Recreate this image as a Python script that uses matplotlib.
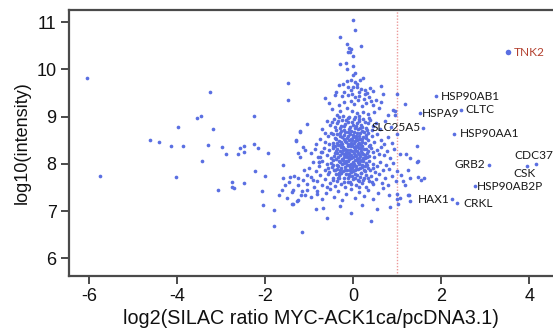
import matplotlib
matplotlib.use("Agg")
import matplotlib.pyplot as plt
import numpy as np

# ---- data ----
left_outliers = [(-6.05, 9.81), (-5.76, 7.74), (-4.63, 8.50), (-4.42, 8.47), (-4.14, 8.37),
                 (-3.86, 8.38), (-3.98, 8.78), (-4.02, 7.72), (-3.55, 8.98), (-3.45, 9.01),
                 (-3.26, 9.53), (-3.19, 8.73), (-3.31, 8.39), (-3.44, 8.07), (-3.08, 7.45),
                 (-2.99, 8.36), (-2.89, 8.21), (-2.76, 7.61), (-2.76, 7.52), (-2.72, 7.48),
                 (-2.63, 8.21), (-2.58, 8.33), (-2.48, 8.38), (-2.48, 8.25), (-2.48, 7.60),
                 (-2.26, 9.01), (-2.26, 8.43), (-2.17, 8.33), (-1.93, 8.22), (-2.23, 7.84),
                 (-2.01, 7.74), (-2.07, 7.43), (-2.04, 7.12), (-1.80, 7.02), (-1.81, 6.69),
                 (-1.69, 7.33), (-1.61, 7.44), (-1.59, 7.97)]

top_tail = [(0.00, 11.04), (0.03, 10.83), (-0.30, 10.68), (0.18, 10.50), (-0.14, 10.53),
            (-0.09, 10.46), (-0.06, 10.44), (-0.12, 10.36), (-0.08, 10.37), (-0.01, 10.29),
            (-0.30, 10.11), (-0.17, 10.13), (-0.15, 10.02), (-0.01, 10.07), (0.04, 9.93),
            (0.00, 9.88), (0.22, 9.81), (0.15, 9.77), (0.03, 9.74), (0.08, 9.70),
            (-0.06, 9.77), (-0.15, 9.76), (-0.32, 9.67), (-0.23, 9.69), (-0.11, 9.63),
            (-0.01, 9.62), (0.09, 9.63), (0.17, 9.59), (0.27, 9.57), (0.38, 9.60),
            (0.64, 9.65), (-1.48, 9.71), (-0.04, 9.57), (-0.40, 9.52), (0.45, 9.55),
            (-0.20, 9.53), (0.12, 9.52), (0.32, 9.50), (-1.48, 9.35)]

upper_core = [(-0.64, 9.39), (-0.42, 9.45), (-0.26, 9.43), (-0.11, 9.46), (0.05, 9.41),
              (0.14, 9.44), (0.24, 9.38), (0.36, 9.42), (0.52, 9.36), (0.68, 9.49),
              (0.99, 9.47), (-0.49, 9.17), (-0.30, 9.13), (-0.38, 9.04), (-0.20, 9.30),
              (-0.06, 9.33), (0.02, 9.26), (0.10, 9.35), (0.19, 9.22), (0.30, 9.28),
              (0.44, 9.24), (0.58, 9.18), (0.91, 9.14), (0.80, 9.03), (0.95, 9.03),
              (-0.15, 9.18), (-0.02, 9.12), (0.08, 9.08), (0.22, 9.10), (0.34, 9.05),
              (0.48, 9.09), (-0.24, 9.02), (-0.10, 9.00), (0.14, 9.01), (-0.55, 9.28),
              (0.62, 9.30), (0.40, 9.33), (-0.33, 9.25), (0.27, 9.47), (-0.03, 9.49),
              (1.17, 9.26), (0.95, 9.11)]

band_87 = [(-0.60, 8.90), (-0.52, 8.82), (-0.44, 8.95), (-0.36, 8.86), (-0.30, 8.76),
           (-0.25, 8.93), (-0.18, 8.84), (-0.13, 8.97), (-0.08, 8.78), (-0.03, 8.88),
           (0.02, 8.94), (0.06, 8.81), (0.10, 8.73), (0.14, 8.90), (0.18, 8.83),
           (0.23, 8.96), (0.28, 8.77), (0.33, 8.87), (0.39, 8.92), (0.45, 8.80),
           (0.52, 8.86), (0.60, 8.74), (0.72, 8.91), (0.85, 8.78), (-0.70, 8.74),
           (-0.40, 8.72), (-0.21, 8.71), (-0.05, 8.70), (0.04, 8.99), (0.21, 8.70),
           (0.36, 8.98), (-0.33, 8.99), (-0.11, 8.89), (0.08, 8.86), (0.16, 8.76),
           (-0.27, 8.81), (0.42, 8.71), (0.99, 8.63), (-0.64, 8.66), (-1.04, 8.84),
           (-1.20, 8.68), (-1.21, 8.70)]

band_84 = [(-0.64, 8.47), (-0.58, 8.58), (-0.50, 8.66), (-0.47, 8.45), (-0.42, 8.55),
           (-0.37, 8.64), (-0.33, 8.48), (-0.29, 8.60), (-0.25, 8.42), (-0.22, 8.53),
           (-0.19, 8.67), (-0.16, 8.46), (-0.13, 8.58), (-0.10, 8.50), (-0.07, 8.63),
           (-0.04, 8.44), (-0.01, 8.56), (0.02, 8.68), (0.04, 8.48), (0.07, 8.60),
           (0.10, 8.42), (0.13, 8.53), (0.16, 8.65), (0.19, 8.47), (0.22, 8.57),
           (0.26, 8.44), (0.30, 8.62), (0.34, 8.51), (0.38, 8.41), (0.43, 8.58),
           (0.48, 8.46), (0.55, 8.63), (0.62, 8.50), (0.70, 8.42), (0.78, 8.56),
           (-0.76, 8.52), (-0.85, 8.43), (-0.20, 8.61), (-0.08, 8.41), (0.00, 8.62),
           (0.09, 8.66), (0.24, 8.68), (-0.35, 8.40), (-0.55, 8.42), (0.88, 8.45),
           (-1.30, 8.49), (0.12, 8.45), (-0.02, 8.51), (-0.14, 8.55), (0.06, 8.55),
           (-1.29, 8.50), (1.44, 8.37)]

band_81 = [(-0.72, 8.26), (-0.66, 8.34), (-0.60, 8.18), (-0.55, 8.30), (-0.50, 8.12),
           (-0.46, 8.38), (-0.42, 8.22), (-0.38, 8.31), (-0.35, 8.15), (-0.31, 8.27),
           (-0.28, 8.36), (-0.25, 8.11), (-0.22, 8.20), (-0.19, 8.32), (-0.17, 8.25),
           (-0.14, 8.14), (-0.12, 8.38), (-0.09, 8.22), (-0.07, 8.30), (-0.04, 8.13),
           (-0.02, 8.27), (0.01, 8.35), (0.03, 8.19), (0.05, 8.29), (0.08, 8.10),
           (0.10, 8.24), (0.12, 8.33), (0.15, 8.16), (0.17, 8.28), (0.20, 8.37),
           (0.23, 8.21), (0.26, 8.13), (0.29, 8.31), (0.32, 8.24), (0.36, 8.17),
           (0.40, 8.34), (0.44, 8.26), (0.48, 8.14), (0.53, 8.30), (0.58, 8.21),
           (0.64, 8.36), (0.70, 8.18), (0.76, 8.27), (0.84, 8.12), (0.92, 8.32),
           (-0.80, 8.15), (-0.88, 8.32), (-0.95, 8.22), (-1.10, 8.29), (-1.25, 8.22),
           (-1.20, 8.15), (-0.30, 8.19), (-0.16, 8.18), (-0.05, 8.37), (0.07, 8.38),
           (0.14, 8.21), (0.22, 8.12), (-0.40, 8.28), (-0.10, 8.16), (0.02, 8.23),
           (0.18, 8.34), (-0.24, 8.29), (0.35, 8.38), (1.06, 8.20), (1.21, 8.20),
           (-0.76, 8.15), (-0.73, 8.26), (-1.14, 8.36), (1.29, 8.12)]

band_78 = [(-0.78, 7.95), (-0.70, 8.06), (-0.64, 7.88), (-0.59, 8.00), (-0.54, 7.82),
           (-0.49, 7.93), (-0.45, 8.08), (-0.41, 7.86), (-0.37, 7.98), (-0.33, 7.81),
           (-0.30, 8.04), (-0.27, 7.91), (-0.24, 7.84), (-0.21, 8.01), (-0.18, 7.94),
           (-0.15, 7.87), (-0.12, 8.07), (-0.09, 7.97), (-0.06, 7.83), (-0.03, 7.92),
           (0.00, 8.03), (0.03, 7.86), (0.06, 7.96), (0.09, 8.09), (0.11, 7.89),
           (0.14, 7.99), (0.17, 7.81), (0.20, 7.93), (0.23, 8.05), (0.27, 7.85),
           (0.31, 7.97), (0.35, 8.07), (0.39, 7.88), (0.44, 7.99), (0.49, 7.83),
           (0.55, 7.95), (0.61, 8.04), (0.67, 7.86), (0.74, 7.98), (0.82, 7.90),
           (0.90, 8.02), (1.00, 7.85), (-0.85, 7.84), (-0.92, 8.03), (-1.00, 7.92),
           (-1.12, 7.87), (-0.77, 8.03), (-0.58, 7.91), (-0.16, 8.03), (0.04, 8.08),
           (-0.36, 7.90), (0.16, 7.91), (-0.08, 7.88), (0.26, 7.95), (-0.46, 7.97),
           (1.46, 8.04), (1.25, 7.88), (0.12, 8.02), (-0.26, 7.99), (0.46, 7.91),
           (-0.77, 8.03), (1.48, 8.06)]

band_75 = [(-1.60, 7.70), (-1.45, 7.62), (-1.35, 7.75), (-1.25, 7.55), (-1.15, 7.66),
           (-1.05, 7.58), (-0.97, 7.72), (-0.90, 7.51), (-0.83, 7.64), (-0.76, 7.77),
           (-0.70, 7.56), (-0.64, 7.68), (-0.58, 7.79), (-0.52, 7.60), (-0.47, 7.71),
           (-0.42, 7.53), (-0.37, 7.64), (-0.32, 7.76), (-0.27, 7.57), (-0.22, 7.69),
           (-0.18, 7.52), (-0.13, 7.62), (-0.09, 7.74), (-0.05, 7.58), (-0.01, 7.68),
           (0.03, 7.78), (0.07, 7.55), (0.11, 7.66), (0.16, 7.73), (0.20, 7.59),
           (0.25, 7.70), (0.30, 7.52), (0.35, 7.63), (0.40, 7.75), (0.46, 7.57),
           (0.52, 7.67), (0.58, 7.78), (0.65, 7.60), (0.72, 7.70), (0.80, 7.55),
           (0.88, 7.74), (0.97, 7.63), (1.08, 7.76), (1.30, 7.70), (1.55, 7.65),
           (-0.60, 7.50), (-0.10, 7.78), (0.13, 7.52), (-0.35, 7.70), (0.42, 7.62),
           (-1.44, 7.72), (-1.25, 7.69), (-1.06, 7.76), (-0.91, 7.65), (-1.55, 7.56),
           (1.48, 7.72), (1.61, 7.71), (1.14, 7.63), (1.17, 7.55)]

band_72 = [(-1.50, 7.28), (-1.40, 7.40), (-1.28, 7.22), (-1.18, 7.35), (-1.05, 7.45),
           (-0.95, 7.30), (-0.82, 7.42), (-0.72, 7.25), (-0.62, 7.38), (-0.52, 7.46),
           (-0.44, 7.30), (-0.35, 7.42), (-0.25, 7.24), (-0.16, 7.36), (-0.06, 7.47),
           (0.04, 7.28), (0.14, 7.40), (0.24, 7.32), (0.34, 7.45), (0.45, 7.26),
           (0.56, 7.38), (0.68, 7.48), (0.82, 7.34), (0.99, 7.36), (1.00, 7.25),
           (-1.36, 7.44), (-1.17, 7.42), (-1.10, 7.33), (-1.25, 7.23), (-0.83, 7.37),
           (1.06, 7.27), (1.24, 7.33), (1.27, 7.33), (1.29, 7.21)]

bottom_tail = [(-1.17, 6.56), (-0.60, 6.86), (0.40, 6.78), (-0.85, 7.05), (-0.30, 7.10),
               (0.20, 7.12), (-1.40, 7.15), (0.55, 7.05), (-0.05, 6.95), (-1.36, 7.14),
               (-0.68, 7.07), (0.83, 7.09), (1.02, 7.14)]

core_extra = [(-0.48, 8.88), (-0.41, 8.79), (-0.34, 8.91), (-0.28, 8.69), (-0.22, 8.80),
              (-0.16, 8.92), (-0.09, 8.74), (-0.01, 8.83), (0.05, 8.75), (0.12, 8.95),
              (0.20, 8.79), (0.27, 8.88), (0.32, 8.72), (-0.45, 8.63), (-0.39, 8.52),
              (-0.31, 8.66), (-0.26, 8.56), (-0.18, 8.49), (-0.11, 8.68), (-0.06, 8.53),
              (0.01, 8.45), (0.08, 8.50), (0.14, 8.59), (0.21, 8.52), (0.28, 8.54),
              (0.33, 8.66), (-0.47, 8.33), (-0.43, 8.16), (-0.36, 8.24), (-0.29, 8.40),
              (-0.23, 8.35), (-0.20, 8.14), (-0.15, 8.30), (-0.11, 8.24), (-0.06, 8.19),
              (-0.03, 8.40), (0.00, 8.15), (0.04, 8.33), (0.09, 8.27), (0.13, 8.13),
              (0.19, 8.24), (0.24, 8.31), (0.31, 8.15), (0.34, 8.28), (-0.50, 8.02),
              (-0.44, 7.87), (-0.40, 8.10), (-0.34, 7.95), (-0.29, 7.87), (-0.23, 8.08),
              (-0.19, 7.86), (-0.14, 7.98), (-0.10, 8.11), (-0.05, 8.00), (-0.01, 7.85),
              (0.02, 7.99), (0.07, 7.90), (0.10, 8.04), (0.15, 8.07), (0.19, 7.98),
              (0.24, 7.88), (0.29, 8.02), (0.33, 7.92), (-0.46, 7.66), (-0.40, 7.78),
              (-0.33, 7.69), (-0.28, 7.80), (-0.21, 7.62), (-0.16, 7.79), (-0.11, 7.69),
              (-0.07, 7.61), (-0.02, 7.75), (0.04, 7.70), (0.09, 7.77), (0.13, 7.63),
              (0.18, 7.80), (0.23, 7.65), (0.28, 7.76), (0.33, 7.70), (-0.38, 8.45),
              (-0.13, 8.43), (0.18, 8.41), (-0.25, 8.23), (0.06, 8.17), (-0.32, 8.07),
              (0.21, 8.09), (-0.08, 7.94), (0.26, 8.19), (-0.42, 8.38), (0.10, 8.36),
              (-0.17, 8.06), (0.00, 7.95), (-0.27, 8.47), (0.16, 8.52)]

# labelled proteins
gene_names = ["HSP90AB1", "HSPA9", "CLTC", "SLC25A5", "HSP90AA1", "GRB2",
              "CSK", "CDC37", "HSP90AB2P", "HAX1", "CRKL"]
gene_x = [1.88, 1.51, 2.44, 1.59, 2.28, 3.09, 3.94, 4.15, 2.77, 2.24, 2.36]
gene_y = [9.43, 9.07, 9.15, 8.77, 8.64, 7.98, 7.96, 8.00, 7.53, 7.25, 7.17]
bait_name = "TNK2"
bait_x = 3.52
bait_y = 10.36
threshold = 1.0

# ---- plotting ----
fig = plt.figure(figsize=(5.53, 3.35), dpi=100)
ax = fig.add_axes([69 / 553, (335 - 275.7) / 335, 1 - 69 / 553, (275.7 - 10) / 335])

pts = np.array(left_outliers + top_tail + upper_core + band_87 + band_84 + band_81 +
               band_78 + band_75 + band_72 + bottom_tail + core_extra)
dot_color = "#5a6fe2"
ax.scatter(pts[:, 0], pts[:, 1], s=7, color=dot_color, linewidths=0, zorder=3)
ax.scatter(gene_x, gene_y, s=7, color=dot_color, linewidths=0, zorder=3)
ax.scatter([bait_x], [bait_y], s=16, color=dot_color, linewidths=0, zorder=3)

ax.axvline(threshold, color="#ec9a9a", linestyle=(0, (1, 1.2)), linewidth=1.0, zorder=1)

lab_font = dict(family="Lato", fontsize=8.6, color="#1a1a1a", va="center")
offsets = {  # (dx, ha)
    "HSP90AB1": (0.12, "left"),
    "HSPA9": (0.06, "left"),
    "CLTC": (0.10, "left"),
    "SLC25A5": (-0.06, "right"),
    "HSP90AA1": (0.14, "left"),
    "GRB2": (-0.10, "right"),
    "HSP90AB2P": (0.05, "left"),
    "HAX1": (-0.06, "right"),
    "CRKL": (0.14, "left"),
}
for n, x, y in zip(gene_names, gene_x, gene_y):
    if n in offsets:
        dx, ha = offsets[n]
        ax.text(x + dx, y, n, ha=ha, **lab_font)
ax.text(3.66, 8.17, "CDC37", ha="left", **lab_font)
ax.text(3.65, 7.79, "CSK", ha="left", **lab_font)
ax.text(bait_x + 0.13, bait_y, bait_name, ha="left", family="Lato", fontsize=8.6,
        color="#b3402f", va="center")

ax.set_xlim(-6.46, 4.54)
ax.set_ylim(5.63, 11.26)
ax.set_xticks([-6, -4, -2, 0, 2, 4])
ax.set_yticks([6, 7, 8, 9, 10, 11])
ax.set_xticklabels(["-6", "-4", "-2", "0", "2", "4"])

spine_c = "#4a4a4a"
for s in ["left", "bottom", "top"]:
    ax.spines[s].set_color(spine_c)
    ax.spines[s].set_linewidth(1.6)
ax.spines["right"].set_visible(False)
ax.tick_params(axis="both", direction="out", length=6, width=1.4, color=spine_c,
               labelsize=13, labelcolor="#111111", pad=3)
for lab in ax.get_xticklabels() + ax.get_yticklabels():
    lab.set_family("Liberation Sans")

ax.set_xlabel("log2(SILAC ratio MYC-ACK1ca/pcDNA3.1)", family="Liberation Sans",
              fontsize=14.2, color="#111111", labelpad=3)
ax.set_ylabel("log10(intensity)", family="Liberation Sans", fontsize=13,
              color="#111111", labelpad=4)

fig.savefig("out.png", dpi=100)
